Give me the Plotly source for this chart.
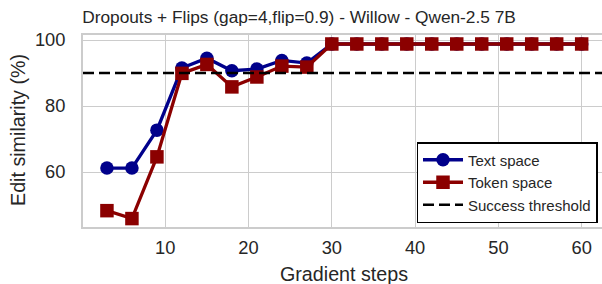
import plotly.graph_objects as go

steps = [3, 6, 9, 12, 15, 18, 21, 24, 27, 30, 33, 36, 39, 42, 45, 48, 51, 54, 57, 60]
text_space = [61.2, 61.2, 72.7, 91.5, 94.5, 90.7, 91.2, 93.8, 93.0, 98.8, 98.8, 98.8, 98.8, 98.8, 98.8, 98.8, 98.8, 98.8, 98.8, 98.8]
token_space = [48.3, 45.9, 64.6, 89.9, 92.6, 85.8, 88.8, 92.1, 91.8, 98.8, 98.8, 98.8, 98.8, 98.8, 98.8, 98.8, 98.8, 98.8, 98.8, 98.8]
threshold = 90
title = "Dropouts + Flips (gap=4,flip=0.9) - Willow - Qwen-2.5 7B"
x_label = "Gradient steps"
y_label = "Edit similarity (%)"
x_ticks = [10, 20, 30, 40, 50, 60]
y_ticks = [60, 80, 100]

FONT = "Liberation Sans, Arial, sans-serif"
TXT = "#262626"
W, H = 602, 284
L, R, T, B = 83, 0, 35, 57
PW, PH = W - L - R, H - T - B

fig = go.Figure()
fig.add_trace(go.Scatter(x=steps, y=text_space, mode="lines+markers", name="Text space",
                         line=dict(color="#00008B", width=3.3),
                         marker=dict(symbol="circle", size=13.5, color="#00008B")))
fig.add_trace(go.Scatter(x=steps, y=token_space, mode="lines+markers", name="Token space",
                         line=dict(color="#8B0000", width=3.3),
                         marker=dict(symbol="square", size=13.5, color="#8B0000")))
fig.add_trace(go.Scatter(x=[None], y=[None], mode="lines", name="Success threshold",
                         line=dict(color="black", width=2.7, dash="11px,5px")))
fig.add_shape(type="line", xref="x domain", yref="y", x0=0, x1=1, y0=threshold, y1=threshold,
              line=dict(color="black", width=2.7, dash="11px,5px"), layer="above")

fig.add_annotation(text=x_label, xref="paper", yref="paper",
                   x=(344 - L) / PW, y=-(274 - (T + PH)) / PH, xanchor="center", yanchor="middle",
                   showarrow=False, font=dict(size=19.7, color=TXT, family=FONT))
fig.add_annotation(text=y_label, xref="paper", yref="paper", textangle=-90,
                   x=(18 - L) / PW, y=(T + PH - 130) / PH, xanchor="center", yanchor="middle",
                   showarrow=False, font=dict(size=19.7, color=TXT, family=FONT))

fig.update_layout(
    width=W, height=H,
    margin=dict(l=L, r=R, t=T, b=B, autoexpand=False),
    paper_bgcolor="white", plot_bgcolor="white",
    font=dict(family=FONT, color=TXT, size=17),
    title=dict(text=title, x=299 / W, xanchor="center", y=1 - 16.5 / H, yanchor="middle",
               font=dict(size=17.3, color=TXT, family=FONT)),
    showlegend=True,
    legend=dict(x=(597.5 - L) / PW, xanchor="right", y=4 / PH, yanchor="bottom",
                bgcolor="white", bordercolor="black", borderwidth=1.5,
                font=dict(size=15.0, color=TXT, family=FONT),
                tracegroupgap=0, itemwidth=40),
)
fig.update_xaxes(range=[0.125, 62.44], tickvals=x_ticks, showgrid=True, gridcolor="#cccccc", gridwidth=1.3,
                 showline=True, linecolor="#cccccc", linewidth=1.8, mirror=True, zeroline=False,
                 ticks="outside", ticklen=3, tickcolor="rgba(0,0,0,0)",
                 tickfont=dict(size=18.3, color=TXT), automargin=False)
fig.update_yaxes(range=[43.35, 101.52], tickvals=y_ticks, showgrid=True, gridcolor="#cccccc", gridwidth=1.3,
                 showline=True, linecolor="#cccccc", linewidth=1.8, mirror=True, zeroline=False,
                 ticks="outside", ticklen=12, tickcolor="rgba(0,0,0,0)",
                 tickfont=dict(size=18.3, color=TXT), automargin=False)

fig.write_html("out.html", config={"displayModeBar": False},
               post_script="document.body.style.margin='0';document.body.style.overflow='hidden';")
